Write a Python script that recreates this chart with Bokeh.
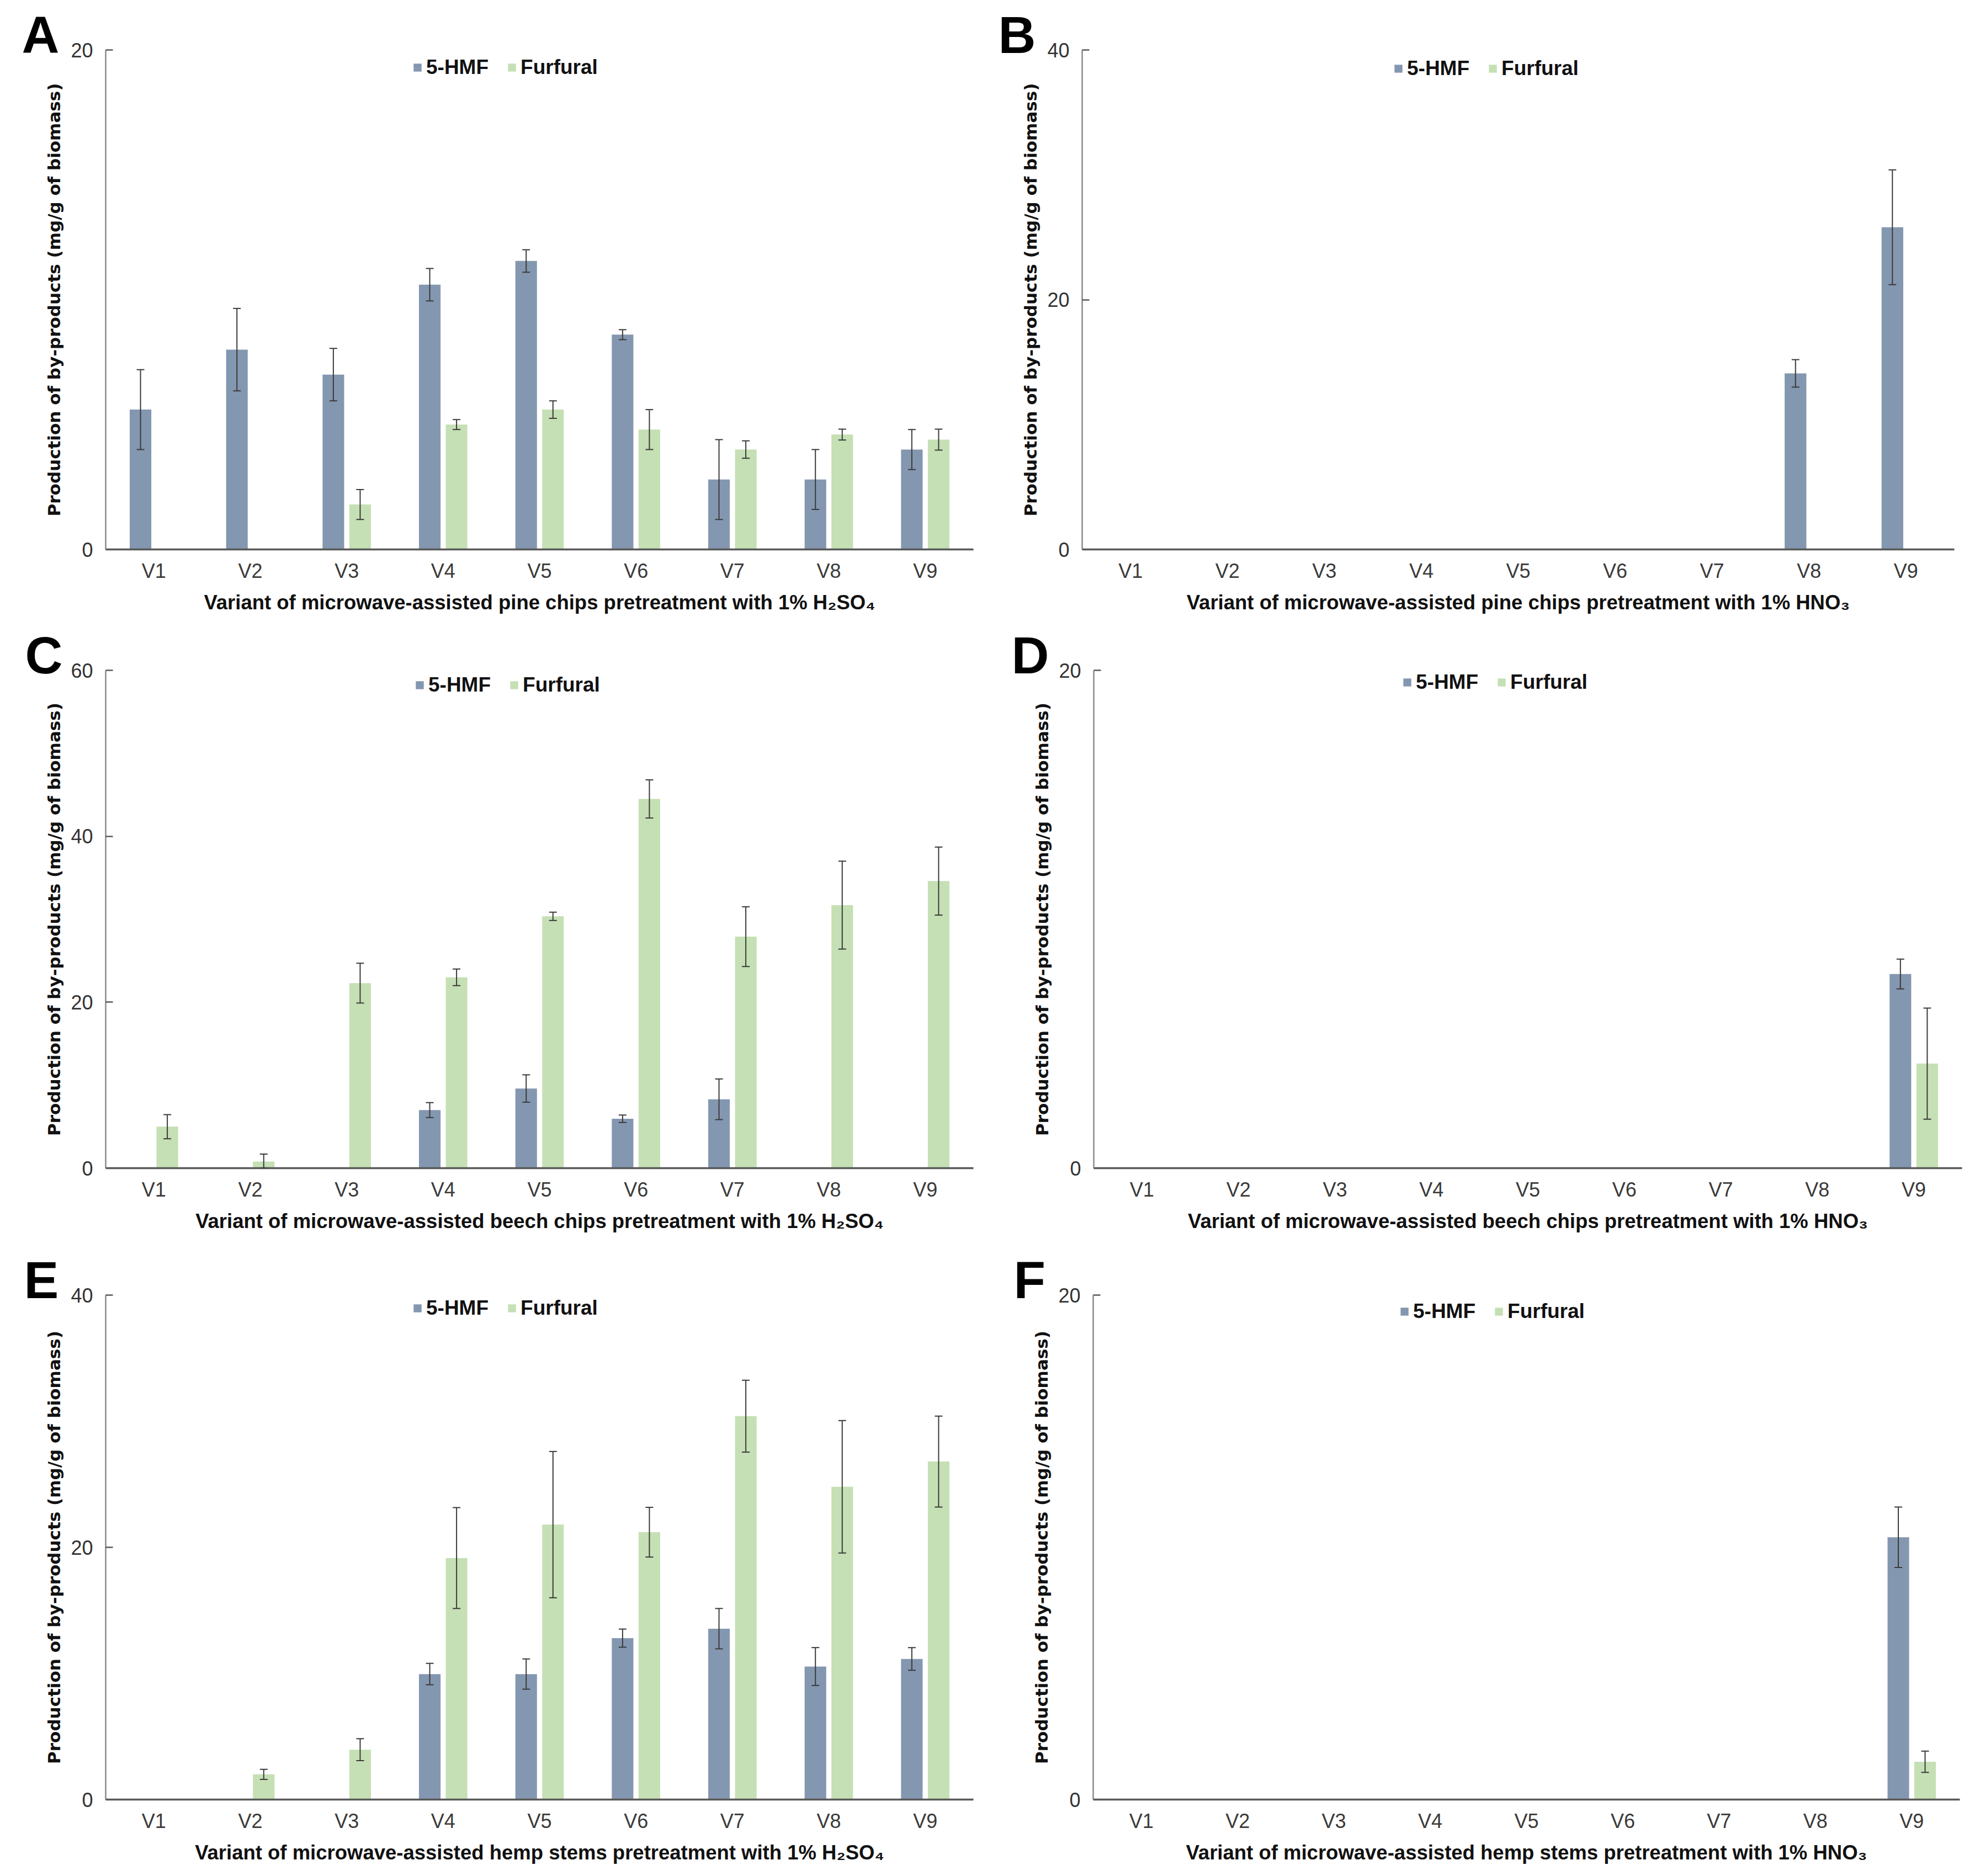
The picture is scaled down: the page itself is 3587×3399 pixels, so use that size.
from bokeh.plotting import figure
from bokeh.models import (Range1d, FactorRange, ColumnDataSource, Whisker, TeeHead,
                          Legend, LegendItem, FixedTicker)
from bokeh.transform import dodge
from bokeh.layouts import row, column
from bokeh.embed import file_html
from bokeh.resources import INLINE

# ---------------- data ----------------
variants = ["V1", "V2", "V3", "V4", "V5", "V6", "V7", "V8", "V9"]
series_names = ["5-HMF", "Furfural"]
y_title = "Production of by-products (mg/g of biomass)"

a_title = "Variant of microwave-assisted pine chips pretreatment with 1% H\u2082SO\u2084"
a_hmf = [5.6, 8.0, 7.0, 10.6, 11.55, 8.6, 2.8, 2.8, 4.0]
a_hmf_err = [1.6, 1.65, 1.05, 0.65, 0.45, 0.2, 1.6, 1.2, 0.8]
a_fur = [0, 0, 1.8, 5.0, 5.6, 4.8, 4.0, 4.6, 4.4]
a_fur_err = [0, 0, 0.6, 0.2, 0.35, 0.8, 0.35, 0.22, 0.42]
a_yticks = [0, 20]

b_title = "Variant of microwave-assisted pine chips pretreatment with 1% HNO\u2083"
b_hmf = [0, 0, 0, 0, 0, 0, 0, 14.1, 25.8]
b_hmf_err = [0, 0, 0, 0, 0, 0, 0, 1.1, 4.6]
b_fur = [0, 0, 0, 0, 0, 0, 0, 0, 0]
b_fur_err = [0, 0, 0, 0, 0, 0, 0, 0, 0]
b_yticks = [0, 20, 40]

c_title = "Variant of microwave-assisted beech chips pretreatment with 1% H\u2082SO\u2084"
c_hmf = [0, 0, 0, 7.0, 9.6, 5.95, 8.3, 0, 0]
c_hmf_err = [0, 0, 0, 0.9, 1.65, 0.45, 2.45, 0, 0]
c_fur = [5.0, 0.8, 22.3, 23.0, 30.35, 44.5, 27.9, 31.7, 34.6]
c_fur_err = [1.45, 0.9, 2.4, 1.0, 0.5, 2.3, 3.6, 5.3, 4.1]
c_yticks = [0, 20, 40, 60]

d_title = "Variant of microwave-assisted beech chips pretreatment with 1% HNO\u2083"
d_hmf = [0, 0, 0, 0, 0, 0, 0, 0, 7.8]
d_hmf_err = [0, 0, 0, 0, 0, 0, 0, 0, 0.6]
d_fur = [0, 0, 0, 0, 0, 0, 0, 0, 4.2]
d_fur_err = [0, 0, 0, 0, 0, 0, 0, 0, 2.23]
d_yticks = [0, 20]

e_title = "Variant of microwave-assisted hemp stems pretreatment with 1% H\u2082SO\u2084"
e_hmf = [0, 0, 0, 9.95, 9.95, 12.8, 13.55, 10.55, 11.15]
e_hmf_err = [0, 0, 0, 0.85, 1.2, 0.72, 1.6, 1.5, 0.9]
e_fur = [0, 2.0, 3.95, 19.15, 21.8, 21.2, 30.4, 24.8, 26.8]
e_fur_err = [0, 0.4, 0.87, 4.0, 5.8, 1.97, 2.85, 5.25, 3.6]
e_yticks = [0, 20, 40]

f_title = "Variant of microwave-assisted hemp stems pretreatment with 1% HNO\u2083"
f_hmf = [0, 0, 0, 0, 0, 0, 0, 0, 10.4]
f_hmf_err = [0, 0, 0, 0, 0, 0, 0, 0, 1.2]
f_fur = [0, 0, 0, 0, 0, 0, 0, 0, 1.5]
f_fur_err = [0, 0, 0, 0, 0, 0, 0, 0, 0.42]
f_yticks = [0, 20]

# ---------------- style ----------------
HMF_COLOR = "#8497B0"
FUR_COLOR = "#C5E0B4"
ERR_COLOR = "#3a3a3a"
BAR_W = 0.224
OFF = 0.139
SANS = "Liberation Sans"


def make_panel(letter, xtitle, yticks, hmf, hmf_err, fur, fur_err, geom):
    W, H, L, T, FW, FH, leg_dx, leg_dy, let_off = geom
    p = figure(width=W, height=H,
               x_range=FactorRange(*variants), y_range=Range1d(0, yticks[-1]),
               output_backend="svg", toolbar_location=None,
               min_border_left=L, min_border_top=T,
               min_border_right=W - L - FW, min_border_bottom=H - T - FH)
    p.outline_line_color = None
    p.xgrid.visible = False
    p.ygrid.visible = False
    p.background_fill_color = "white"
    p.border_fill_color = "white"

    # panel letter as the title
    p.title.text = letter
    p.title.align = "left"
    p.title.vertical_align = "top"
    p.title.offset = let_off
    p.title.standoff = -55
    p.title.text_font = SANS
    p.title.text_font_style = "bold"
    p.title.text_font_size = "94px"
    p.title.text_color = "black"

    renderers = []
    for vals, errs, col, off in ((hmf, hmf_err, HMF_COLOR, -OFF), (fur, fur_err, FUR_COLOR, OFF)):
        src = ColumnDataSource(dict(x=variants, top=vals))
        r = p.vbar(x=dodge("x", off, range=p.x_range), top="top", width=BAR_W,
                   source=src, fill_color=col, line_color=None)
        renderers.append(r)
        wx, wu, wl = [], [], []
        for v, val, e in zip(variants, vals, errs):
            if val > 0 and e > 0:
                wx.append(v)
                wu.append(val + e)
                wl.append(max(val - e, 0))
        if wx:
            wsrc = ColumnDataSource(dict(x=wx, upper=wu, lower=wl))
            w = Whisker(source=wsrc, base=dodge("x", off, range=p.x_range),
                        upper="upper", lower="lower", level="annotation",
                        line_color=ERR_COLOR, line_width=2,
                        upper_head=TeeHead(size=14, line_color=ERR_COLOR, line_width=2),
                        lower_head=TeeHead(size=14, line_color=ERR_COLOR, line_width=2))
            p.add_layout(w)

    # y axis
    ya = p.yaxis[0]
    ya.ticker = FixedTicker(ticks=yticks)
    ya.axis_line_color = "#8a8a8a"
    ya.axis_line_width = 2.5
    ya.major_tick_in = 13
    ya.major_tick_out = 0
    ya.major_tick_line_color = "#595959"
    ya.major_tick_line_width = 2.5
    ya.minor_tick_line_color = None
    ya.major_label_standoff = 23
    ya.major_label_text_font = SANS
    ya.major_label_text_font_size = "36px"
    ya.major_label_text_color = "#333333"
    ya.axis_label = y_title
    ya.axis_label_text_font = "DejaVu Sans"
    ya.axis_label_text_font_style = "bold"
    ya.axis_label_text_font_size = "31px"
    ya.axis_label_text_color = "#111111"
    ya.axis_label_standoff = 9

    # x axis
    xa = p.xaxis[0]
    xa.axis_line_color = "#595959"
    xa.axis_line_width = 3.5
    xa.major_tick_in = 0
    xa.major_tick_out = 0
    xa.minor_tick_line_color = None
    xa.major_label_standoff = 18
    xa.major_label_text_font = SANS
    xa.major_label_text_font_size = "36px"
    xa.major_label_text_color = "#3a3a3a"
    xa.axis_label = xtitle
    xa.axis_label_text_font = SANS
    xa.axis_label_text_font_style = "bold"
    xa.axis_label_text_font_size = "36.5px"
    xa.axis_label_text_color = "#111111"
    xa.axis_label_standoff = 13

    leg = Legend(items=[LegendItem(label=series_names[0], renderers=[renderers[0]]),
                        LegendItem(label=series_names[1], renderers=[renderers[1]])],
                 orientation="horizontal", location=(leg_dx, FH - leg_dy - 31),
                 padding=0, margin=0, spacing=33, label_standoff=7,
                 glyph_width=18, glyph_height=18,
                 border_line_color=None, background_fill_alpha=0,
                 label_text_font=SANS, label_text_font_style="bold",
                 label_text_font_size="37px", label_text_color="#111111")
    p.add_layout(leg)
    return p


pa = make_panel("A", a_title, a_yticks, a_hmf, a_hmf_err, a_fur, a_fur_err,
                (1780, 1132, 191, 85, 1572, 910, 556, 27, -152))
pb = make_panel("B", b_title, b_yticks, b_hmf, b_hmf_err, b_fur, b_fur_err,
                (1795, 1132, 180, 90, 1580, 909, 564, 28, -152))
pc = make_panel("C", c_title, c_yticks, c_hmf, c_hmf_err, c_fur, c_fur_err,
                (1780, 1130, 191, 70, 1572, 914, 560, 29, -146))
pd_ = make_panel("D", d_title, d_yticks, d_hmf, d_hmf_err, d_fur, d_fur_err,
                 (1795, 1130, 201, 82, 1573, 912, 559, 22, -149))
pe = make_panel("E", e_title, e_yticks, e_hmf, e_hmf_err, e_fur, e_fur_err,
                (1780, 1128, 191, 76, 1572, 922, 556, 22, -148))
pf = make_panel("F", f_title, f_yticks, f_hmf, f_hmf_err, f_fur, f_fur_err,
                (1795, 1128, 200, 84, 1570, 916, 555, 22, -144))

layout = column(row(pa, pb), row(pc, pd_), row(pe, pf))
open("out.html", "w").write(file_html(layout, INLINE))
